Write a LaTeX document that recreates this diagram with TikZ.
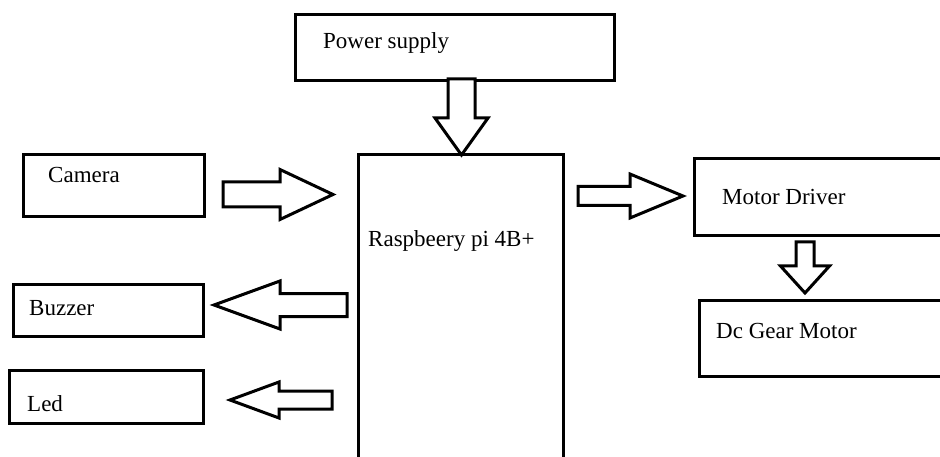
\documentclass[tikz,border=0pt]{standalone}
\usepackage{fontspec}
\setmainfont{Liberation Serif}
\newfontfamily\tnrfont{Liberation Serif}
\begin{document}
\begin{tikzpicture}[x=1pt,y=-1pt,
  box/.style={draw=black, line width=3pt, fill=white, inner sep=0pt, anchor=north west},
  lbl/.style={anchor=base west, inner sep=0pt, font=\tnrfont\fontsize{23}{28}\selectfont},
  arrowline/.style={draw=black, line width=3pt, line join=miter, fill=white}]
\useasboundingbox (0,0) rectangle (940,457);
\clip (0,0) rectangle (940,457);
\fill[white] (0,0) rectangle (940,457);
\newcommand{\barrow}[6]{\draw[arrowline, shift={(#1)}, rotate=#2]
  (0,-#5) -- ({#3-#4},-#5) -- ({#3-#4},-#6) -- (#3,0) -- ({#3-#4},#6) -- ({#3-#4},#5) -- (0,#5) -- cycle;}
% boxes
\node[box, minimum width=319pt, minimum height=66pt] (power) at (294,13) {};
\node[box, minimum width=205pt, minimum height=330pt] (pi) at (357,153) {};
\node[box, minimum width=181pt, minimum height=62pt] (camera) at (22,153) {};
\node[box, minimum width=190pt, minimum height=52pt] (buzzer) at (12,283) {};
\node[box, minimum width=194pt, minimum height=53pt] (led) at (8,369) {};
\node[box, minimum width=270pt, minimum height=77pt] (driver) at (693,157) {};
\node[box, minimum width=265pt, minimum height=76pt] (motor) at (698,299) {};
% labels
\node[lbl] (tpower) at (323,49) {Power supply};
\node[lbl] (tpi) at (368,247) {Raspbeery pi 4B+};
\node[lbl] (tcamera) at (48,183) {Camera};
\node[lbl] (tbuzzer) at (29,316) {Buzzer};
\node[lbl] (tled) at (27,411) {Led};
\node[lbl] (tdriver) at (722,205) {Motor Driver};
\node[lbl] (tmotor) at (716,338) {Dc Gear Motor};
% block arrows
\coordinate (a1) at (461.5,79);
\coordinate (a2) at (223,194.5);
\coordinate (a3) at (347,305);
\coordinate (a4) at (332,400);
\coordinate (a5) at (578,196);
\coordinate (a6) at (805,242);
\barrow{a1}{-90}{76}{37}{13.5}{26.5}
\barrow{a2}{0}{110}{53}{12.5}{25}
\barrow{a3}{180}{133}{66}{11.5}{24}
\barrow{a4}{180}{102}{49}{9}{18}
\barrow{a5}{0}{105}{53}{9.5}{22}
\barrow{a6}{-90}{51}{27}{9}{24.5}
\end{tikzpicture}
\end{document}
